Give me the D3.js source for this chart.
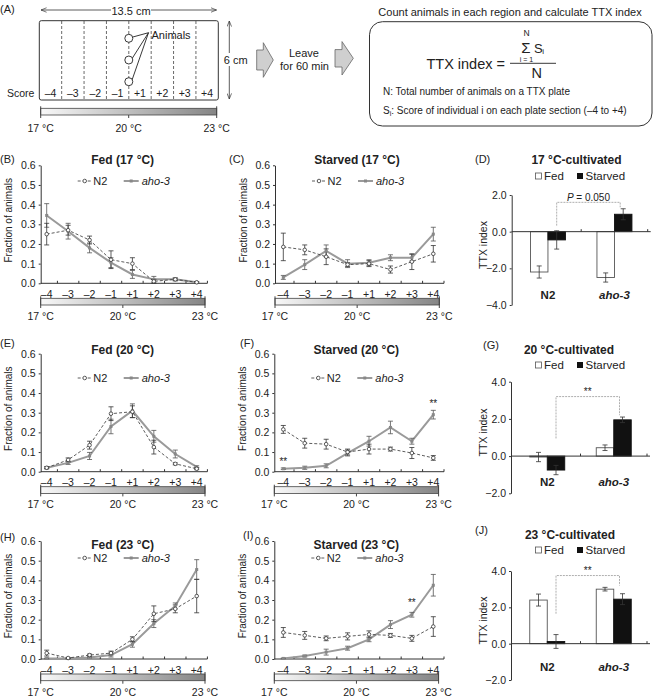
<!DOCTYPE html>
<html><head><meta charset="utf-8">
<script src="https://cdn.jsdelivr.net/npm/d3@7"></script>
<style>
body{margin:0;background:#fff;}
svg{display:block;font-family:"Liberation Sans",Arial,Helvetica,sans-serif;}
</style></head><body>
<svg id="c" width="653" height="697"></svg>
<script>
// ---------------- data ----------------
const scores = ["–4","–3","–2","–1","+1","+2","+3","+4"];
const tempValues = [17, 20, 23];
const tempLabels = ["17 °C","20 °C","23 °C"];
const fracTicks = [0, 0.1, 0.2, 0.3, 0.4, 0.5, 0.6];
const strains = ["N2","aho-3"];
const conditions = ["Fed","Starved"];

// (B) Fed 17 °C
const fed17N2     = [0.25, 0.27, 0.22, 0.12, 0.10, 0.01, 0.02, 0.005];
const fed17N2Err  = [0.055, 0.025, 0.02, 0.045, 0.03, 0.01, 0.007, 0.003];
const fed17Aho    = [0.345, 0.265, 0.18, 0.105, 0.045, 0.02, 0.02, 0.005];
const fed17AhoErr = [0.06, 0.04, 0.025, 0.025, 0.02, 0.015, 0.007, 0.003];
// (C) Starved 17 °C
const st17N2      = [0.185, 0.17, 0.135, 0.095, 0.10, 0.07, 0.11, 0.15];
const st17N2Err   = [0.07, 0.025, 0.04, 0.01, 0.015, 0.018, 0.04, 0.042];
const st17Aho     = [0.03, 0.095, 0.165, 0.10, 0.105, 0.13, 0.13, 0.25];
const st17AhoErr  = [0.01, 0.025, 0.03, 0.02, 0.015, 0.015, 0.017, 0.035];
// (E) Fed 20 °C
const fed20N2     = [0.02, 0.06, 0.135, 0.295, 0.305, 0.125, 0.04, 0.015];
const fed20N2Err  = [0.005, 0.01, 0.02, 0.035, 0.03, 0.035, 0.005, 0.005];
const fed20Aho    = [0.02, 0.045, 0.08, 0.23, 0.31, 0.18, 0.09, 0.025];
const fed20AhoErr = [0.005, 0.008, 0.018, 0.037, 0.035, 0.03, 0.02, 0.005];
// (F) Starved 20 °C
const st20N2      = [0.215, 0.145, 0.14, 0.10, 0.115, 0.115, 0.095, 0.07];
const st20N2Err   = [0.02, 0.025, 0.025, 0.015, 0.025, 0.01, 0.028, 0.012];
const st20Aho     = [0.015, 0.02, 0.03, 0.095, 0.155, 0.225, 0.155, 0.29];
const st20AhoErr  = [0.004, 0.008, 0.01, 0.015, 0.025, 0.032, 0.015, 0.022];
// (H) Fed 23 °C
const fed23N2     = [0.03, 0.005, 0.02, 0.03, 0.10, 0.23, 0.255, 0.32];
const fed23N2Err  = [0.015, 0.003, 0.005, 0.01, 0.013, 0.04, 0.02, 0.085];
const fed23Aho    = [0.003, 0.003, 0.008, 0.02, 0.075, 0.18, 0.27, 0.455];
const fed23AhoErr = [0.002, 0.002, 0.003, 0.01, 0.015, 0.02, 0.015, 0.05];
// (I) Starved 23 °C
const st23N2      = [0.135, 0.12, 0.105, 0.115, 0.125, 0.12, 0.105, 0.165];
const st23N2Err   = [0.025, 0.02, 0.012, 0.018, 0.018, 0.01, 0.015, 0.05];
const st23Aho     = [0.003, 0.015, 0.035, 0.055, 0.10, 0.175, 0.225, 0.375];
const st23AhoErr  = [0.002, 0.005, 0.015, 0.01, 0.012, 0.02, 0.012, 0.055];

// TTX index bars (N2, aho-3)
const ttx17Fed = [-2.2, -2.5],  ttx17FedErr = [0.33, 0.25];
const ttx17St  = [-0.45, 0.95], ttx17StErr  = [0.5, 0.3];
const ttx20Fed = [-0.05, 0.45], ttx20FedErr = [0.25, 0.15];
const ttx20St  = [-0.75, 1.95], ttx20StErr  = [0.25, 0.15];
const ttx23Fed = [2.4, 3.0],    ttx23FedErr = [0.33, 0.1];
const ttx23St  = [0.12, 2.45],  ttx23StErr  = [0.38, 0.3];

// ---------------- drawing ----------------
const svg = d3.select("#c");
const TXT = "#222", LN = "#333";
const defs = svg.append("defs");
const grad = defs.append("linearGradient").attr("id","tg");
grad.append("stop").attr("offset","0%").attr("stop-color","#f8f8f8");
grad.append("stop").attr("offset","100%").attr("stop-color","#858585");
defs.append("marker").attr("id","ah").attr("viewBox","0 0 10 10")
  .attr("refX",10).attr("refY",5).attr("markerWidth",7).attr("markerHeight",7)
  .attr("orient","auto-start-reverse").append("path").attr("d","M0,1 L10,5 L0,9")
  .attr("fill","none").attr("stroke",LN).attr("stroke-width",1.2);

function txt(g, x, y, s, o = {}) {
  return g.append("text").attr("x", x).attr("y", y).text(s)
    .attr("font-size", o.size || 10.5).attr("fill", o.fill || TXT)
    .attr("text-anchor", o.anchor || "middle").attr("dominant-baseline", "central")
    .attr("font-weight", o.bold ? "bold" : null).attr("font-style", o.italic ? "italic" : null);
}

function tempBar(g, x0, x1, yTop, h, labelY) {
  const t = d3.scaleLinear().domain([17, 23]).range([x0, x1]);
  g.append("rect").attr("x", x0).attr("y", yTop).attr("width", x1 - x0).attr("height", h)
    .attr("fill", "url(#tg)").attr("stroke", "#444").attr("stroke-width", 0.8);
  [17, 23].forEach(d => g.append("line").attr("x1", t(d)).attr("x2", t(d))
    .attr("y1", yTop - 2).attr("y2", yTop + h + 3).attr("stroke", "#444").attr("stroke-width", 1));
  g.append("line").attr("x1", t(20)).attr("x2", t(20)).attr("y1", yTop + h).attr("y2", yTop + h + 3)
    .attr("stroke", "#444");
  tempValues.forEach((d, i) => txt(g, t(d), labelY, tempLabels[i], {size: 10.5}));
}

// ---------- Panel A ----------
(function panelA() {
  const g = svg.append("g");
  txt(g, 0, 9, "(A)", {anchor: "start", size: 11});
  g.append("line").attr("x1", 41).attr("x2", 216.5).attr("y1", 10).attr("y2", 10)
    .attr("stroke", LN).attr("stroke-width", 0.8)
    .attr("marker-start", "url(#ah)").attr("marker-end", "url(#ah)");
  g.append("rect").attr("x", 111).attr("y", 4).attr("width", 40).attr("height", 12).attr("fill", "#fff");
  txt(g, 131, 10.5, "13.5 cm", {size: 11});
  const sx = d3.scaleBand().domain(scores).range([39.3, 218.3]);
  g.append("rect").attr("x", 39.3).attr("y", 20.7).attr("width", 179).attr("height", 79.3)
    .attr("rx", 2).attr("fill", "none").attr("stroke", LN).attr("stroke-width", 1);
  scores.slice(1).forEach(s => g.append("line").attr("x1", sx(s)).attr("x2", sx(s))
    .attr("y1", 21).attr("y2", 99.5).attr("stroke", "#444").attr("stroke-width", 0.8)
    .attr("stroke-dasharray", "3,2"));
  scores.forEach(s => txt(g, sx(s) + sx.bandwidth() / 2, 92.5, s, {size: 10.5}));
  txt(g, 7, 92.5, "Score", {anchor: "start", size: 10.5});
  const cx = sx("+1");
  [38.3, 60, 81.7].forEach(cy => {
    g.append("line").attr("x1", cx + 3).attr("y1", cy - 1).attr("x2", 148.5).attr("y2", 32.7)
      .attr("stroke", "#222").attr("stroke-width", 0.9);
    g.append("circle").attr("cx", cx).attr("cy", cy).attr("r", 4)
      .attr("fill", "#fff").attr("stroke", "#222").attr("stroke-width", 0.9);
  });
  txt(g, 151.5, 35, "Animals", {anchor: "start", size: 11});
  g.append("line").attr("x1", 229.3).attr("x2", 229.3).attr("y1", 21).attr("y2", 99)
    .attr("stroke", LN).attr("stroke-width", 0.8)
    .attr("marker-start", "url(#ah)").attr("marker-end", "url(#ah)");
  g.append("rect").attr("x", 223).attr("y", 53).attr("width", 25).attr("height", 13).attr("fill", "#fff");
  txt(g, 235.7, 59.5, "6 cm", {size: 11});
  const blk = (x0, x1, x2, yc, hs, hh) => g.append("path")
    .attr("d", `M${x0},${yc - hs}H${x1}V${yc - hh}L${x2},${yc}L${x1},${yc + hh}V${yc + hs}H${x0}Z`)
    .attr("fill", "#cfcfcf").attr("stroke", "#666").attr("stroke-width", 0.8);
  blk(256.7, 263.3, 273.3, 60, 10, 17.3);
  blk(335, 342, 353.3, 58.3, 8.7, 16.7);
  txt(g, 304, 53, "Leave", {size: 11});
  txt(g, 304.5, 65.5, "for 60 min", {size: 11});
  tempBar(g, 40.7, 216.7, 108.3, 6.7, 128.3);
  txt(g, 510, 12, "Count animals in each region and calculate TTX index", {size: 11});
  g.append("rect").attr("x", 369.5).attr("y", 21.7).attr("width", 282.5).attr("height", 104.3)
    .attr("rx", 13).attr("fill", "none").attr("stroke", LN).attr("stroke-width", 1);
  txt(g, 505, 64, "TTX index =", {anchor: "end", size: 14.5});
  g.append("line").attr("x1", 510).attr("x2", 556).attr("y1", 63.3).attr("y2", 63.3)
    .attr("stroke", "#222").attr("stroke-width", 0.9);
  txt(g, 526, 47.5, "Σ", {size: 15});
  txt(g, 526.5, 33, "N", {size: 8.5});
  txt(g, 526.5, 59.3, "i = 1", {size: 7});
  txt(g, 534, 48, "S", {anchor: "start", size: 13});
  txt(g, 542.3, 51.5, "i", {anchor: "start", size: 8});
  txt(g, 536.7, 73, "N", {size: 14.5});
  txt(g, 383, 91.7, "N: Total number of animals on a TTX plate", {anchor: "start", size: 10});
  const t2 = g.append("text").attr("x", 383).attr("y", 110).attr("font-size", 10).attr("fill", TXT)
    .attr("dominant-baseline", "central");
  t2.append("tspan").text("S");
  t2.append("tspan").text("i").attr("font-size", 7).attr("dy", 2.5);
  t2.append("tspan").text(": Score of individual i on each plate section (–4 to +4)").attr("dy", -2.5);
})();

// ---------- line panels ----------
function linePanel(p) {
  const g = svg.append("g");
  const x = d3.scalePoint().domain(scores).range([p.ax0 + p.pl, p.ax0 + p.pl + 150]);
  const y = d3.scaleLinear().domain([0, 0.6]).range([p.y0, p.y0 - 118]);
  const st = x.step();
  const ya = g.append("g").attr("transform", `translate(${p.ax0},0)`)
    .call(d3.axisLeft(y).tickValues(fracTicks).tickFormat(d3.format(".1f"))
      .tickSizeInner(2).tickSizeOuter(0).tickPadding(3));
  ya.select(".domain").attr("stroke", LN);
  ya.selectAll(".tick line").attr("stroke", LN);
  ya.selectAll("text").attr("font-size", 10.5).attr("fill", TXT).attr("font-family", null);
  const xEnd = x("+4") + st / 2;
  g.append("line").attr("x1", p.ax0).attr("x2", xEnd).attr("y1", p.y0).attr("y2", p.y0).attr("stroke", LN);
  scores.forEach(s => {
    g.append("line").attr("x1", x(s) + st / 2).attr("x2", x(s) + st / 2)
      .attr("y1", p.y0).attr("y2", p.y0 - 2.5).attr("stroke", LN);
    txt(g, x(s), p.y0 + 10.7, s, {size: 10.5});
  });
  tempBar(g, p.ax0, p.ax0 + 164.3, p.y0 + 15, 6.7, p.y0 + 32.5);
  txt(g, p.lx, p.ly, p.label, {anchor: "start", size: 11});
  txt(g, p.ax0 + 82, p.ty, p.title, {size: 12, bold: true});
  g.append("text").attr("transform", `translate(${p.ax0 - 32},${p.y0 - 63}) rotate(-90)`)
    .attr("text-anchor", "middle").attr("dominant-baseline", "central")
    .attr("font-size", 10).attr("fill", TXT).text("Fraction of animals");
  const L = p.ly2;
  g.append("line").attr("x1", p.ax0 + 37).attr("x2", p.ax0 + 51).attr("y1", L).attr("y2", L)
    .attr("stroke", LN).attr("stroke-width", 0.8).attr("stroke-dasharray", "3,2");
  g.append("circle").attr("cx", p.ax0 + 44).attr("cy", L).attr("r", 1.8)
    .attr("fill", "#fff").attr("stroke", LN).attr("stroke-width", 0.8);
  txt(g, p.ax0 + 52.5, L, "N2", {anchor: "start", size: 11});
  g.append("line").attr("x1", p.ax0 + 83).attr("x2", p.ax0 + 98).attr("y1", L).attr("y2", L)
    .attr("stroke", "#9a9a9a").attr("stroke-width", 2);
  g.append("rect").attr("x", p.ax0 + 89).attr("y", L - 1.5).attr("width", 3).attr("height", 3).attr("fill", "#888");
  txt(g, p.ax0 + 101, L, "aho-3", {anchor: "start", size: 11, italic: true});
  const line = d3.line().x((d, i) => x(scores[i])).y(d => y(d));
  const errs = (vals, err, col) => vals.forEach((v, i) => {
    const xx = x(scores[i]), lo = y(Math.max(0, v - err[i])), hi = y(v + err[i]);
    g.append("path").attr("d", `M${xx},${lo}V${hi}M${xx - 2.5},${lo}H${xx + 2.5}M${xx - 2.5},${hi}H${xx + 2.5}`)
      .attr("stroke", col).attr("stroke-width", 0.8).attr("fill", "none");
  });
  g.append("path").attr("d", line(p.aho)).attr("fill", "none").attr("stroke", "#9a9a9a").attr("stroke-width", 2);
  errs(p.aho, p.ahoE, "#555");
  g.append("path").attr("d", line(p.n2)).attr("fill", "none").attr("stroke", LN)
    .attr("stroke-width", 0.8).attr("stroke-dasharray", "3,2");
  errs(p.n2, p.n2E, LN);
  p.aho.forEach((v, i) => g.append("rect").attr("x", x(scores[i]) - 1.5).attr("y", y(v) - 1.5)
    .attr("width", 3).attr("height", 3).attr("fill", "#888"));
  p.n2.forEach((v, i) => g.append("circle").attr("cx", x(scores[i])).attr("cy", y(v)).attr("r", 1.8)
    .attr("fill", "#fff").attr("stroke", LN).attr("stroke-width", 0.8));
  (p.stars || []).forEach(s => txt(g, x(s.cat), y(s.v), "**", {size: 10}));
}

linePanel({ax0: 40.7, pl: 6, y0: 283.3, label: "(B)", lx: 0, ly: 159, title: "Fed (17 °C)", ty: 160, ly2: 181,
  n2: fed17N2, n2E: fed17N2Err, aho: fed17Aho, ahoE: fed17AhoErr});
linePanel({ax0: 275, pl: 8.3, y0: 283.3, label: "(C)", lx: 229, ly: 159, title: "Starved (17 °C)", ty: 160, ly2: 181,
  n2: st17N2, n2E: st17N2Err, aho: st17Aho, ahoE: st17AhoErr});
linePanel({ax0: 40.7, pl: 6, y0: 471.7, label: "(E)", lx: 0, ly: 343, title: "Fed (20 °C)", ty: 350, ly2: 378,
  n2: fed20N2, n2E: fed20N2Err, aho: fed20Aho, ahoE: fed20AhoErr});
linePanel({ax0: 274.3, pl: 9, y0: 471.7, label: "(F)", lx: 240, ly: 343, title: "Starved (20 °C)", ty: 350, ly2: 378,
  n2: st20N2, n2E: st20N2Err, aho: st20Aho, ahoE: st20AhoErr,
  stars: [{cat: "+4", v: 0.345}, {cat: "–4", v: 0.05}]});
linePanel({ax0: 40.7, pl: 6, y0: 659, label: "(H)", lx: 0, ly: 537, title: "Fed (23 °C)", ty: 545, ly2: 558,
  n2: fed23N2, n2E: fed23N2Err, aho: fed23Aho, ahoE: fed23AhoErr});
linePanel({ax0: 274.3, pl: 9, y0: 659, label: "(I)", lx: 243, ly: 535, title: "Starved (23 °C)", ty: 545, ly2: 558,
  n2: st23N2, n2E: st23N2Err, aho: st23Aho, ahoE: st23AhoErr,
  stars: [{cat: "+3", v: 0.285}]});

// ---------- bar panels ----------
function barPanel(p) {
  const g = svg.append("g");
  const x0 = d3.scaleBand().domain(strains).range([p.ax0 + 3, p.ax0 + 136]);
  const x1 = d3.scaleBand().domain(conditions).range([0, 35]);
  const y = d3.scaleLinear().domain(p.dom).range(p.rng);
  const off = (x0.bandwidth() - 35) / 2;
  const vals = {Fed: p.fed, Starved: p.st}, errs = {Fed: p.fedE, Starved: p.stE};
  strains.forEach((s, i) => conditions.forEach(c => {
    const v = vals[c][i], bx = x0(s) + off + x1(c);
    g.append("rect").attr("x", bx).attr("y", Math.min(y(v), y(0))).attr("width", x1.bandwidth())
      .attr("height", Math.abs(y(v) - y(0))).attr("fill", c === "Fed" ? "#fff" : "#111")
      .attr("stroke", c === "Fed" ? "#555" : "#111").attr("stroke-width", 0.9);
  }));
  strains.forEach((s, i) => conditions.forEach(c => {
    const v = vals[c][i], e = errs[c][i], xx = x0(s) + off + x1(c) + x1.bandwidth() / 2;
    const lo = y(v - e), hi = y(v + e);
    g.append("path").attr("d", `M${xx},${lo}V${hi}M${xx - 2.5},${lo}H${xx + 2.5}M${xx - 2.5},${hi}H${xx + 2.5}`)
      .attr("stroke", "#333").attr("stroke-width", 0.8).attr("fill", "none");
  }));
  const ya = g.append("g").attr("transform", `translate(${p.ax0},0)`)
    .call(d3.axisLeft(y).tickValues(p.ticks).tickFormat(d3.format(".1f"))
      .tickSizeInner(2).tickSizeOuter(0).tickPadding(3));
  ya.select(".domain").attr("stroke", LN);
  ya.selectAll(".tick line").attr("stroke", LN);
  ya.selectAll("text").attr("font-size", 10.5).attr("fill", TXT).attr("font-family", null);
  g.append("line").attr("x1", p.ax0).attr("x2", p.ax0 + 139).attr("y1", y(0)).attr("y2", y(0)).attr("stroke", LN);
  [x0("aho-3"), x0.range()[1]].forEach(tx => g.append("line").attr("x1", tx).attr("x2", tx)
    .attr("y1", y(0)).attr("y2", y(0) - 2.5).attr("stroke", LN));
  strains.forEach((s, i) => txt(g, x0(s) + x0.bandwidth() / 2, p.gy, s, {size: 11.5, bold: true, italic: i === 1}));
  g.append("text").attr("transform", `translate(${p.ax0 - 28.5},${(p.rng[0] + p.rng[1]) / 2 - 5}) rotate(-90)`)
    .attr("text-anchor", "middle").attr("dominant-baseline", "central")
    .attr("font-size", 10.5).attr("fill", TXT).text("TTX index");
  txt(g, p.lx, p.ly, p.label, {anchor: "start", size: 11});
  txt(g, p.tx, p.ty, p.title, {size: 12, bold: true});
  g.append("rect").attr("x", 535.5).attr("y", p.legY - 3).attr("width", 6).attr("height", 6)
    .attr("fill", "#fff").attr("stroke", "#555").attr("stroke-width", 0.8);
  txt(g, 544, p.legY, "Fed", {anchor: "start", size: 11.5});
  g.append("rect").attr("x", 577).attr("y", p.legY - 3).attr("width", 6).attr("height", 6).attr("fill", "#111");
  txt(g, 585.5, p.legY, "Starved", {anchor: "start", size: 11.5});
  const xl = x0("N2") + off + x1("Starved") + x1.bandwidth() / 2;
  const xr = x0("aho-3") + off + x1("Starved") + x1.bandwidth() / 2 - 3;
  g.append("path").attr("d", `M${xl},${y(p.br[0])}V${y(p.br[1])}H${xr}V${y(p.br[2])}`)
    .attr("fill", "none").attr("stroke", "#999").attr("stroke-width", 0.8).attr("stroke-dasharray", "2,1");
  const st = g.append("text").attr("x", (xl + xr) / 2).attr("y", y(p.br[1]) - 5.5)
    .attr("text-anchor", "middle").attr("dominant-baseline", "central").attr("fill", TXT)
    .attr("font-size", 10);
  if (p.sig === "**") st.text("**");
  else { st.append("tspan").text("P").attr("font-style", "italic"); st.append("tspan").text(" = 0.050"); }
}

barPanel({ax0: 511.7, dom: [-4, 2], rng: [305, 195], ticks: [2, 0, -2, -4], gy: 295,
  label: "(D)", lx: 475, ly: 159, title: "17 °C-cultivated", tx: 576.5, ty: 160, legY: 176,
  fed: ttx17Fed, fedE: ttx17FedErr, st: ttx17St, stE: ttx17StErr, br: [0.33, 1.6, 1.33], sig: "P"});
barPanel({ax0: 511, dom: [-2, 4], rng: [493.3, 381.7], ticks: [4, 2, 0, -2], gy: 481.7,
  label: "(G)", lx: 483, ly: 345, title: "20 °C-cultivated", tx: 569, ty: 350, legY: 365,
  fed: ttx20Fed, fedE: ttx20FedErr, st: ttx20St, stE: ttx20StErr, br: [0.95, 3.2, 2.2], sig: "**"});
barPanel({ax0: 511, dom: [-2, 4], rng: [680, 571], ticks: [4, 2, 0, -2], gy: 666.7,
  label: "(J)", lx: 475, ly: 530, title: "23 °C-cultivated", tx: 570, ty: 535, legY: 550,
  fed: ttx23Fed, fedE: ttx23FedErr, st: ttx23St, stE: ttx23StErr, br: [1.65, 3.75, 3.2], sig: "**"});
</script>
</body></html>
